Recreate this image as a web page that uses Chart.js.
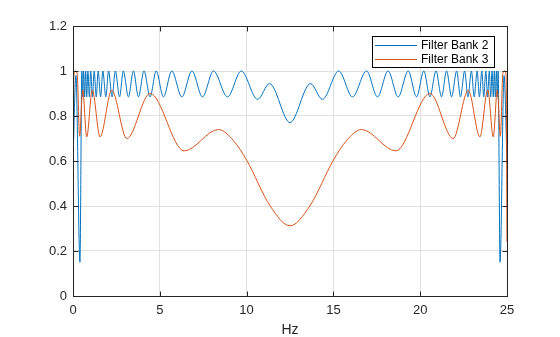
<!DOCTYPE html>
<html>
<head>
<meta charset="utf-8">
<script src="https://cdn.jsdelivr.net/npm/chart.js@4"></script>
<style>
  html, body { margin: 0; padding: 0; background: #fff; }
  #wrap { width: 560px; height: 337px; }
</style>
</head>
<body>
<div id="wrap"><canvas id="chart" width="560" height="337"></canvas></div>
<script>
// values (peaks / troughs of each response)
const bank2Hz = [0, 0.17, 0.40, 0.51, 0.56, 0.61, 0.67, 0.73, 0.79, 0.86, 0.94, 1.02, 1.12, 1.22, 1.34, 1.45,
  1.59, 1.72, 1.89, 2.05, 2.25, 2.44, 2.68, 2.90, 3.19, 3.48, 3.77, 4.09, 4.44, 4.79, 5.21, 5.69, 6.27, 6.85,
  7.46, 8.09, 8.90, 9.69, 10.63, 11.32, 12.5, 13.68, 14.37, 15.31, 16.10, 16.91, 17.54, 18.15, 18.73, 19.31,
  19.79, 20.21, 20.56, 20.91, 21.23, 21.52, 21.81, 22.10, 22.32, 22.56, 22.75, 22.95, 23.11, 23.28, 23.41,
  23.55, 23.66, 23.78, 23.88, 23.98, 24.06, 24.14, 24.21, 24.27, 24.33, 24.39, 24.44, 24.49, 24.60, 24.83, 25];
const bank2Mag = [0.6, 0.98, 0.15, 1.0, 0.885, 1.0, 0.885, 1.0, 0.885, 1.0, 0.885, 1.0, 0.885, 1.0, 0.885, 1.0,
  0.885, 1.0, 0.885, 1.0, 0.885, 1.0, 0.885, 1.0, 0.885, 1.0, 0.885, 1.0, 0.885, 1.0, 0.885, 1.0, 0.885, 1.0,
  0.885, 1.0, 0.885, 1.0, 0.874, 0.944, 0.771, 0.944, 0.874, 1.0, 0.885, 1.0, 0.885, 1.0, 0.885, 1.0,
  0.885, 1.0, 0.885, 1.0, 0.885, 1.0, 0.885, 1.0, 0.885, 1.0, 0.885, 1.0, 0.885, 1.0, 0.885,
  1.0, 0.885, 1.0, 0.885, 1.0, 0.885, 1.0, 0.885, 1.0, 0.885, 1.0, 0.885, 1.0, 0.15, 0.98, 0.6];

const bank3Hz = [0, 0.05, 0.12, 0.24, 0.38, 0.56, 0.79, 1.11, 1.56, 2.23, 3.10, 4.44, 6.40, 8.38, 9.25, 10.0,
  11.36, 12.5, 13.64, 15.0, 15.75, 16.62, 18.6, 20.56, 21.9, 22.77, 23.44, 23.89, 24.21, 24.44, 24.62, 24.76,
  24.88, 24.95, 25];
const bank3Mag = [0.24, 0.98, 1.0, 0.99, 0.71, 0.915, 0.707, 0.915, 0.707, 0.914, 0.70, 0.90, 0.645, 0.74, 0.69, 0.604,
  0.40, 0.312, 0.40, 0.604, 0.69, 0.74, 0.645, 0.90, 0.70, 0.914, 0.707, 0.915, 0.707, 0.915, 0.71, 0.99,
  1.0, 0.98, 0.24];

const seriesNames = ["Filter Bank 2", "Filter Bank 3"];
const xTicks = [0, 5, 10, 15, 20, 25];
const yTicks = [0, 0.2, 0.4, 0.6, 0.8, 1, 1.2];

const blue = "#0072BD";
const orange = "#D95319";
const axisColor = "#262626";
const font = "'Liberation Sans', Arial, sans-serif";

function zip(xs, ys) {
    return xs.map((x, i) => ({ x: x, y: ys[i] }));
}

// MATLAB style box, inward ticks and an inside legend
const boxPlugin = {
    id: "boxPlugin",
    afterDraw(chart) {
        const { ctx, chartArea: a, scales } = chart;
        const l = Math.round(a.left) + 0.5, r = Math.round(a.right) + 0.5;
        const t = Math.round(a.top) + 0.5, b = Math.round(a.bottom) + 0.5;
        ctx.save();
        ctx.strokeStyle = axisColor;
        ctx.lineWidth = 1;
        ctx.strokeRect(l, t, r - l, b - t);
        ctx.beginPath();
        xTicks.forEach(v => {
            const px = Math.round(scales.x.getPixelForValue(v)) + 0.5;
            ctx.moveTo(px, b); ctx.lineTo(px, b - 5);
            ctx.moveTo(px, t); ctx.lineTo(px, t + 5);
        });
        yTicks.forEach(v => {
            const py = Math.round(scales.y.getPixelForValue(v)) + 0.5;
            ctx.moveTo(l, py); ctx.lineTo(l + 5, py);
            ctx.moveTo(r, py); ctx.lineTo(r - 5, py);
        });
        ctx.stroke();

        // legend
        const lx = 372.5, ly = 36.5, lw = 122, lh = 31;
        ctx.fillStyle = "#fff";
        ctx.fillRect(lx, ly, lw, lh);
        ctx.strokeStyle = "#000";
        ctx.strokeRect(lx, ly, lw, lh);
        ctx.font = "12px " + font;
        ctx.textBaseline = "middle";
        chart.data.datasets.forEach((ds, i) => {
            const y = 45.5 + i * 14;
            ctx.strokeStyle = ds.borderColor;
            ctx.beginPath();
            ctx.moveTo(375, y); ctx.lineTo(417, y);
            ctx.stroke();
            ctx.fillStyle = "#000";
            ctx.fillText(ds.label, 421, y);
        });
        ctx.restore();
    }
};

new Chart(document.getElementById("chart"), {
    type: "line",
    data: {
        datasets: [
            {
                label: seriesNames[0],
                data: zip(bank2Hz, bank2Mag),
                borderColor: blue,
                borderWidth: 1,
                pointRadius: 0,
                cubicInterpolationMode: "monotone",
                order: 1
            },
            {
                label: seriesNames[1],
                data: zip(bank3Hz, bank3Mag),
                borderColor: orange,
                borderWidth: 1,
                pointRadius: 0,
                cubicInterpolationMode: "monotone",
                order: 0
            }
        ]
    },
    options: {
        responsive: false,
        animation: false,
        layout: { padding: { left: 0, right: 53, top: 26, bottom: 0 } },
        plugins: {
            legend: { display: false },
            tooltip: { enabled: false }
        },
        scales: {
            x: {
                type: "linear",
                min: 0,
                max: 25,
                afterFit: s => { s.height = 41; },
                afterBuildTicks: s => { s.ticks = xTicks.map(v => ({ value: v })); },
                grid: { color: "#e0e0e0", drawTicks: false },
                border: { display: false },
                ticks: {
                    color: axisColor,
                    font: { family: font, size: 13 },
                    padding: 7,
                    maxRotation: 0,
                    callback: v => String(v)
                },
                title: {
                    display: true,
                    text: "Hz",
                    color: axisColor,
                    font: { family: font, size: 14, lineHeight: 1 },
                    padding: { top: 0, bottom: 0 }
                }
            },
            y: {
                min: 0,
                max: 1.2,
                afterFit: s => { s.width = 73; },
                afterBuildTicks: s => { s.ticks = yTicks.map(v => ({ value: v })); },
                grid: { color: "#e0e0e0", drawTicks: false },
                border: { display: false },
                ticks: {
                    color: axisColor,
                    font: { family: font, size: 13 },
                    padding: 6,
                    callback: v => String(v)
                }
            }
        }
    },
    plugins: [boxPlugin]
});
</script>
</body>
</html>
